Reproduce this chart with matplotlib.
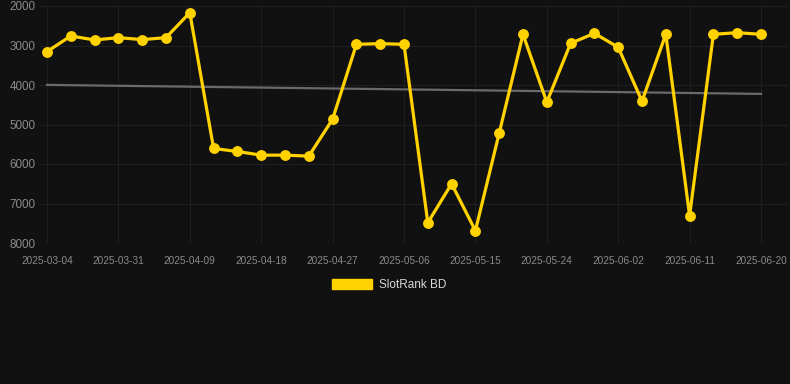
import matplotlib.pyplot as plt
from matplotlib.patches import Patch

plt.rcParams['font.family'] = ['Liberation Sans', 'DejaVu Sans']

# rank per snapshot (lower = better, axis inverted)
rank_values = [3155, 2759, 2860, 2801, 2851, 2801, 2169, 5607, 5683, 5776,
               5776, 5801, 4866, 2970, 2953, 2970, 7487, 6500, 7689, 5219,
               2717, 4436, 2945, 2692, 3045, 4410, 2717, 7310, 2717, 2675,
               2717]
tick_labels = ['2025-03-04', '2025-03-31', '2025-04-09', '2025-04-18',
               '2025-04-27', '2025-05-06', '2025-05-15', '2025-05-24',
               '2025-06-02', '2025-06-11', '2025-06-20']
trend_values = [3997, 4225]
series_name = 'SlotRank BD'

BG = '#111111'
GRID = '#1f1f1f'
GOLD = '#FFD200'

W, H = 790, 384
fig = plt.figure(figsize=(W / 100, H / 100), dpi=100, facecolor=BG)
ax = fig.add_axes([40 / W, 1 - 243 / H, 748 / W, 237 / H])
ax.set_facecolor(BG)

x = list(range(len(rank_values)))
ax.plot(x, rank_values, color=GOLD, lw=2.3, marker='o', ms=6.8,
        mec=GOLD, mfc=GOLD, zorder=3, solid_joinstyle='miter')
ax.plot([x[0], x[-1]], trend_values, color='#6a6a6a', lw=1.6, zorder=2)

ax.set_ylim(8000, 2000)
ax.set_xlim(-7 / 23.8, 30 + 27 / 23.8)
ax.set_yticks(range(2000, 8001, 1000))
ax.set_xticks(x[::3])
ax.set_xticklabels(tick_labels)

ax.grid(True, color=GRID, lw=0.75)
ax.tick_params(axis='both', length=0, colors='#8a8a8a')
ax.tick_params(axis='y', labelsize=8.4, pad=3)
ax.tick_params(axis='x', labelsize=7.2, pad=9)
for s in ax.spines.values():
    s.set_visible(False)

handle = Patch(facecolor=GOLD, edgecolor=GOLD)
fig.legend([handle], [series_name], loc='center', bbox_to_anchor=(0.493, 1 - 285 / H),
           frameon=False, fontsize=8.5, labelcolor='#d8d8d8',
           handlelength=3.4, handleheight=0.9, handletextpad=0.6)

fig.savefig('out.png', dpi=100, facecolor=BG)
